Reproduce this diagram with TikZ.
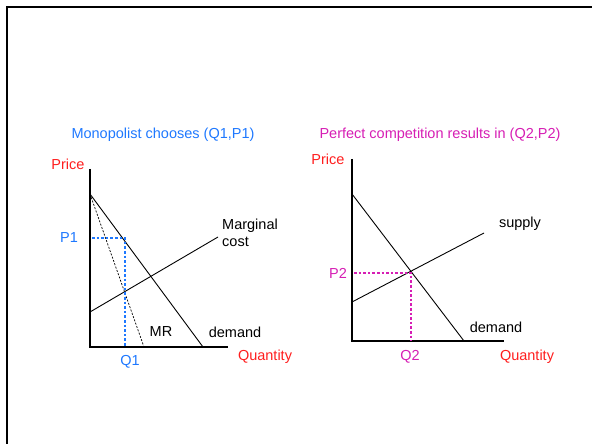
\documentclass[tikz,border=0pt]{standalone}
\usepackage{fontspec}
\setmainfont{Liberation Sans}
\usepackage{xcolor}
\usepackage{tikz}
\usetikzlibrary{positioning, calc}
\definecolor{monoblue}{RGB}{30,120,255}
\definecolor{compmag}{RGB}{214,30,180}
\definecolor{axisred}{RGB}{255,30,30}
\tikzstyle{lbl} = [inner sep=0pt, font=\fontsize{14.5}{17}\selectfont]
\tikzstyle{axis} = [draw, line width=1.3pt]
\tikzstyle{curve} = [draw, line width=0.9pt]
\tikzstyle{mrline} = [draw, line width=0.7pt, dash pattern=on 2pt off 1.5pt]
\tikzstyle{guide} = [draw, line width=2.7pt, dash pattern=on 2.6pt off 2pt]

\begin{document}
\begin{tikzpicture}[x=1pt, y=1pt]
        \useasboundingbox (0,0) rectangle (592,444);
        % Frame
        \coordinate (fbl) at (7,0);
        \coordinate (ftl) at (7,437);
        \coordinate (ftr) at (592,437);
        \draw[line width=2.8pt] (fbl) -- (ftl) -- (ftr);
        % Monopoly: points
        \coordinate (o1) at (90,97);
        \coordinate (ytop1) at (90,275);
        \coordinate (xend1) at (228,97);
        \coordinate (dtop1) at (90,250);
        \coordinate (dend1) at (203,97);
        \coordinate (mrend) at (144,97);
        \coordinate (mcstart) at (90,132);
        \coordinate (mcend) at (218,207);
        \coordinate (p1axis) at (92,206);
        \coordinate (e1) at (125,206);
        \coordinate (q1axis) at (125,97);
        % Monopoly: labels
        \node (title1) [lbl, text=monoblue] at (163,309) {Monopolist chooses (Q1,P1)};
        \node (price1) [lbl, text=axisred] at (68,280) {Price};
        \node (p1) [lbl, text=monoblue] at (69,206) {P1};
        \node (q1) [lbl, text=monoblue] at (130,82) {Q1};
        \node (mc) [lbl, anchor=west, align=left] at (222,211) {Marginal\\cost};
        \node (mr) [lbl] at (161,112) {MR};
        \node (demand1) [lbl] at (235,112) {demand};
        \node (qty1) [lbl, text=axisred] at (265,87) {Quantity};
        % Monopoly: lines
        \path [axis] (ytop1) -- (o1) -- (xend1);
        \path [curve] (dtop1) -- (dend1);
        \path [mrline] (dtop1) -- (mrend);
        \path [curve] (mcstart) -- (mcend);
        \path [guide, monoblue] (p1axis) -- (e1) -- (q1axis);
        % Competition: points
        \coordinate (o2) at (352,103);
        \coordinate (ytop2) at (352,285);
        \coordinate (xend2) at (504,103);
        \coordinate (dtop2) at (352,250);
        \coordinate (dend2) at (464,103);
        \coordinate (sstart) at (352,142);
        \coordinate (send) at (484,211);
        \coordinate (p2axis) at (354,171);
        \coordinate (e2) at (411,171);
        \coordinate (q2axis) at (411,103);
        % Competition: labels
        \node (title2) [lbl, text=compmag] at (440,309) {Perfect competition results in (Q2,P2)};
        \node (price2) [lbl, text=axisred] at (328,285) {Price};
        \node (p2) [lbl, text=compmag] at (338,171) {P2};
        \node (q2) [lbl, text=compmag] at (410,87) {Q2};
        \node (supply) [lbl] at (520,220) {supply};
        \node (demand2) [lbl] at (496,117) {demand};
        \node (qty2) [lbl, text=axisred] at (527,87) {Quantity};
        % Competition: lines
        \path [axis] (ytop2) -- (o2) -- (xend2);
        \path [curve] (dtop2) -- (dend2);
        \path [curve] (sstart) -- (send);
        \path [guide, compmag] (p2axis) -- (e2) -- (q2axis);
\end{tikzpicture}
\end{document}
